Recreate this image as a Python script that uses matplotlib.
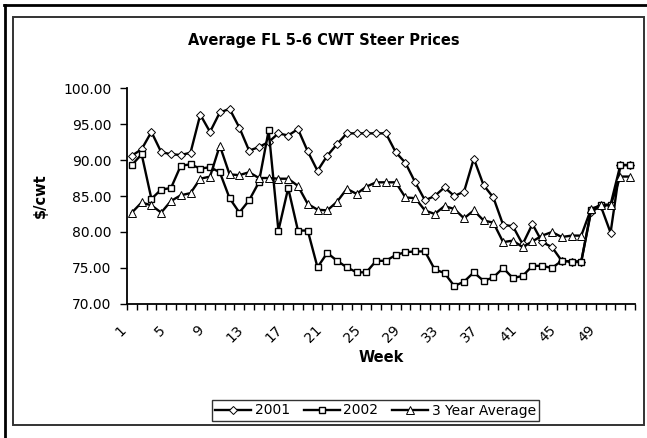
import numpy as np
import matplotlib
matplotlib.use("Agg")
import matplotlib.pyplot as plt
from matplotlib.lines import Line2D
from matplotlib.patches import Rectangle
from matplotlib.transforms import ScaledTranslation

# weekly prices, $/cwt
weeks = list(range(1, 53))
prices_2001 = [90.6, 91.5, 93.9, 91.1, 90.8, 90.7, 91.0, 96.3, 93.9, 96.6,
               97.1, 94.5, 91.3, 91.8, 92.5, 93.7, 93.4, 94.3, 91.2, 88.5,
               90.6, 92.2, 93.7, 93.7, 93.7, 93.7, 93.7, 91.1, 89.6, 86.9,
               84.4, 85.0, 86.2, 85.0, 85.6, 90.2, 86.5, 84.8, 81.0, 80.8,
               78.3, 81.1, 78.6, 77.9, 76.0, 75.9, 75.9, 82.8, 83.6, 79.9,
               89.3, 89.3]
prices_2002 = [89.3, 90.8, 84.6, 85.9, 86.1, 89.2, 89.4, 88.8, 89.0, 88.3,
               84.7, 82.7, 84.4, 86.9, 94.1, 80.2, 86.1, 80.2, 80.2, 75.1,
               77.1, 76.0, 75.1, 74.4, 74.4, 76.0, 76.0, 76.8, 77.2, 77.3,
               77.3, 74.8, 74.3, 72.5, 73.1, 74.4, 73.2, 73.7, 75.0, 73.6,
               73.9, 75.3, 75.3, 75.0, 76.0, 75.9, 75.9, 83.0, 83.8, 83.8,
               89.3, 89.3]
prices_avg = [82.7, 84.1, 83.7, 82.7, 84.3, 85.1, 85.4, 87.4, 87.7, 92.0,
              88.0, 87.9, 88.3, 87.5, 87.5, 87.4, 87.4, 86.4, 83.9, 83.1,
              83.0, 84.2, 86.0, 85.3, 86.3, 86.9, 86.9, 86.9, 84.8, 84.7,
              83.0, 82.5, 83.6, 83.2, 81.9, 83.0, 81.6, 81.3, 78.6, 78.8,
              77.9, 78.7, 79.5, 80.0, 79.3, 79.5, 79.5, 83.2, 83.7, 83.7,
              87.7, 87.7]
label_weeks = list(range(1, 50, 4))

W, H = 647, 438
fig = plt.figure(figsize=(W / 100, H / 100), dpi=100)
ax = fig.add_axes([127 / W, 1 - 304 / H, 508 / W, 216 / H])

x = np.arange(len(weeks))
ax.plot(x, prices_2001, color="black", lw=1.7, marker="D", ms=4.0,
        mfc="white", mec="black", mew=0.7, label="2001")
ax.plot(x, prices_2002, color="black", lw=1.7, marker="s", ms=4.8,
        mfc="white", mec="black", mew=1.0, label="2002")
ax.plot(x, prices_avg, color="black", lw=1.7, marker="^", ms=5.2,
        mfc="white", mec="black", mew=0.7, label="3 Year Average")

ax.set_xlim(-0.5, len(weeks) - 0.5)
ax.set_ylim(70, 100)
ax.set_yticks(np.arange(70, 100.1, 5))
ax.set_yticklabels([f"{v:.2f}" for v in np.arange(70, 100.1, 5)], fontsize=10)

# labels at the category centres, tick marks between categories
ax.set_xticks([w - 1 for w in label_weeks])
ax.set_xticklabels([str(w) for w in label_weeks], fontsize=10, rotation=45,
                   ha="right", va="center", rotation_mode="anchor")
ax.set_xticks(np.arange(-0.5, len(weeks)), minor=True)
ax.tick_params(axis="x", which="major", length=0, pad=17)
ax.tick_params(axis="x", which="minor", length=4, width=1, direction="out")
ax.tick_params(axis="y", length=5, width=1, direction="out", pad=6)
shift = ScaledTranslation(-8 / 100, 0, fig.dpi_scale_trans)
for lab in ax.get_xticklabels():
    lab.set_transform(lab.get_transform() + shift)

for side in ["top", "right"]:
    ax.spines[side].set_visible(False)
for side in ["left", "bottom"]:
    ax.spines[side].set_linewidth(1.3)

ax.set_title("Average FL 5-6 CWT Steer Prices", fontsize=10.5,
             fontweight="bold", pad=31, x=(324 - 127) / 508)
ax.set_xlabel("Week", fontsize=10.5, fontweight="bold")
ax.xaxis.set_label_coords(0.5, (304 - 350) / 216)
ax.set_ylabel("$/cwt", fontsize=10.5, fontweight="bold")
ax.yaxis.set_label_coords((48 - 127) / 508, 0.5)

leg = fig.legend(loc="center", bbox_to_anchor=(375.5 / W, 1 - 410.5 / H),
                 ncol=3, fontsize=10, frameon=True, fancybox=False,
                 handlelength=2.6, handletextpad=0.25, columnspacing=1.0,
                 borderpad=0.25, borderaxespad=0)
leg.get_frame().set_edgecolor("black")
leg.get_frame().set_linewidth(1.0)

# chart area border and the outer frame
fig.add_artist(Rectangle((13 / W, 1 - 425 / H), 631 / W, 408 / H,
                         transform=fig.transFigure, fill=False,
                         edgecolor="#333333", lw=1.4))
fig.add_artist(Line2D([4 / W, 1], [1 - 5 / H, 1 - 5 / H],
                      transform=fig.transFigure, color="black", lw=2))
fig.add_artist(Line2D([5 / W, 5 / W], [0, 1 - 5 / H],
                      transform=fig.transFigure, color="black", lw=2))

fig.savefig("out.png", dpi=100)
